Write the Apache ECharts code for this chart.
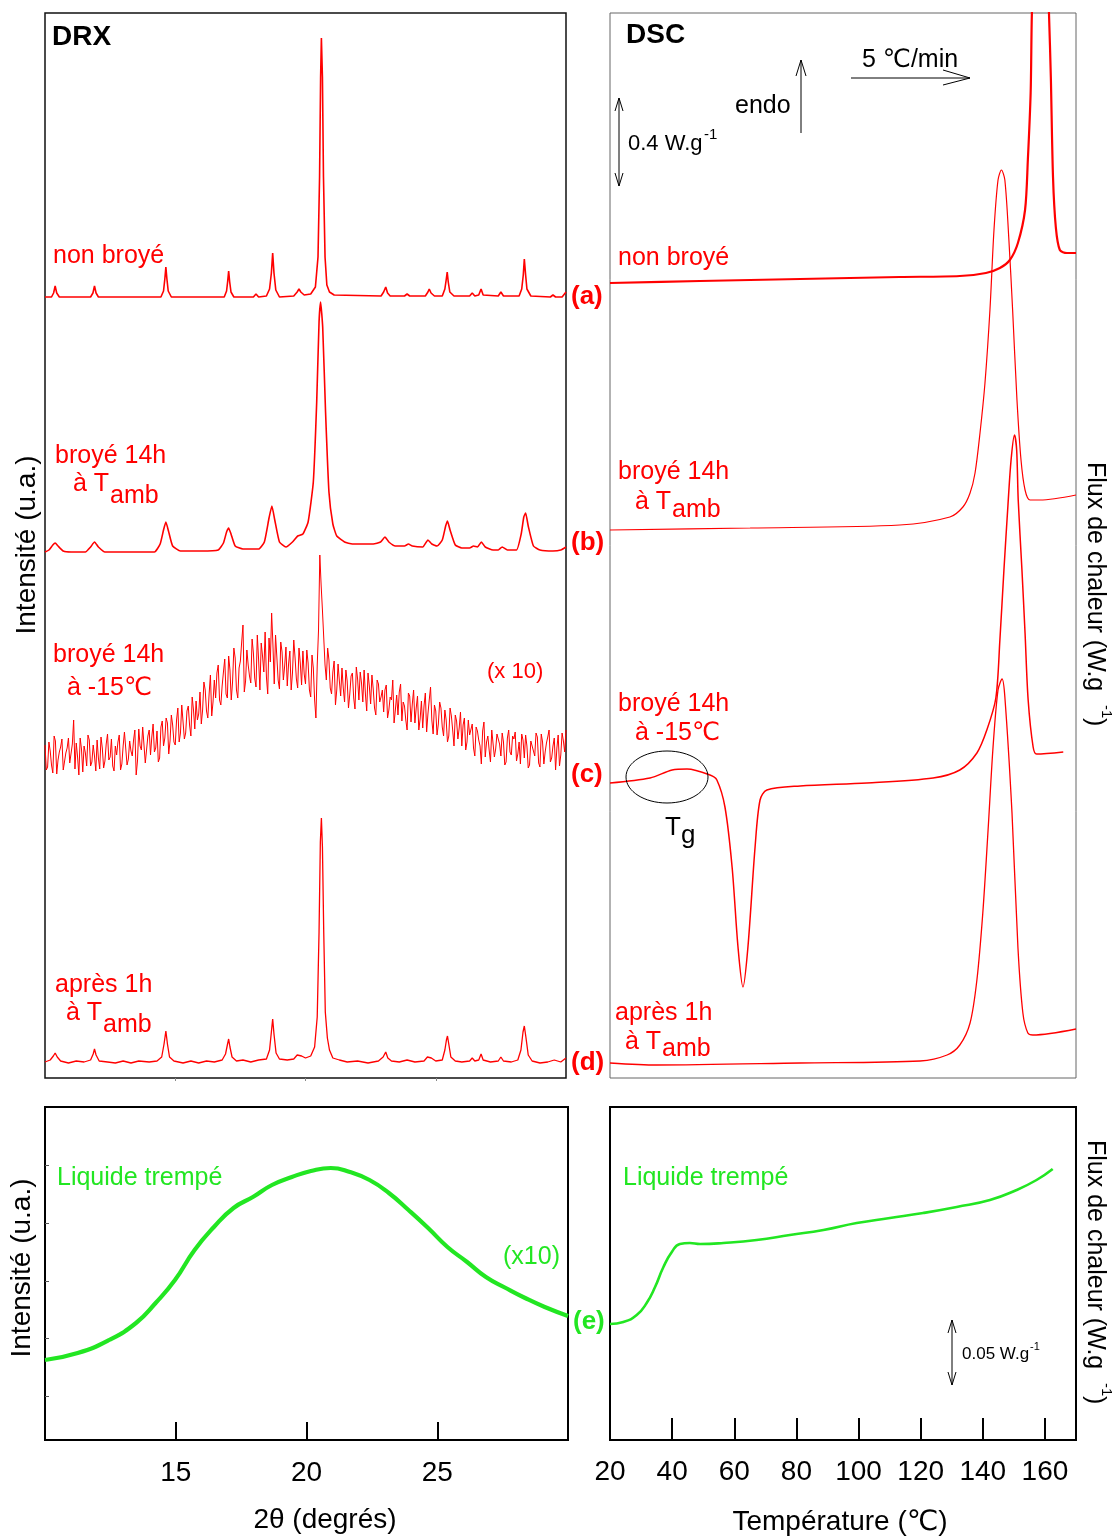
<!DOCTYPE html>
<html>
<head>
<meta charset="utf-8">
<title>DRX / DSC</title>
<script src="https://cdn.jsdelivr.net/npm/echarts@6/dist/echarts.min.js"></script>
<style>
  html, body { margin: 0; padding: 0; background: #fff; }
  #chart { width: 1118px; height: 1538px; }
</style>
</head>
<body>
<div id="chart"></div>
<script>
var FONT = "'Liberation Sans', Arial, 'DejaVu Sans', sans-serif";
var RED = '#ff0000';
var GREEN = '#22e622';

// ---- DRX : [2θ, intensité relative à la ligne de base] ----
var drxNonBroye = [
  [10.0, 0], [10.25, 0], [10.33, 4], [10.39, 11], [10.45, 4], [10.55, 0],
  [11.75, 0], [11.84, 4], [11.9, 11], [11.96, 4], [12.05, 0],
  [14.45, 0], [14.55, 6], [14.6, 18], [14.64, 30], [14.68, 18], [14.73, 6], [14.85, 0],
  [16.88, 0], [16.97, 6], [17.01, 15], [17.05, 26], [17.09, 15], [17.14, 5], [17.25, 0],
  [18.0, 0], [18.1, 3], [18.2, 0],
  [18.5, 1], [18.62, 8], [18.69, 24], [18.74, 44], [18.79, 24], [18.86, 7], [19.0, 0],
  [19.55, 1], [19.68, 5], [19.75, 8], [19.82, 5], [19.95, 2],
  [20.2, 3], [20.38, 10], [20.48, 40], [20.54, 120], [20.58, 220], [20.61, 259], [20.65, 220], [20.69, 120], [20.75, 40], [20.82, 12], [20.86, 10], [20.92, 5], [21.1, 2],
  [22.9, 1], [23.0, 5], [23.08, 10], [23.15, 4], [23.25, 1],
  [23.8, 1], [23.9, 3], [24.0, 1],
  [24.6, 1], [24.7, 5], [24.75, 8], [24.82, 4], [24.95, 1],
  [25.25, 1], [25.35, 8], [25.4, 17], [25.44, 25], [25.48, 15], [25.54, 5], [25.7, 1],
  [26.3, 1], [26.4, 4], [26.5, 1], [26.65, 2], [26.74, 8], [26.82, 2],
  [27.4, 1], [27.5, 5], [27.6, 1],
  [28.2, 1], [28.3, 8], [28.36, 22], [28.4, 38], [28.45, 22], [28.5, 8], [28.65, 1],
  [29.4, 0], [29.5, 2], [29.6, 0], [29.85, 0], [30.0, 5]
];
var drxBroyeAmb = [
  [10.0, 0], [10.15, 2], [10.3, 7], [10.39, 9], [10.5, 6], [10.7, 1], [11.0, 0],
  [11.55, 0], [11.75, 5], [11.9, 10], [12.05, 5], [12.3, 0],
  [14.2, 0], [14.42, 8], [14.55, 22], [14.64, 30], [14.74, 21], [14.9, 6], [15.2, 1],
  [16.0, 1], [16.65, 2], [16.85, 9], [16.97, 20], [17.05, 24], [17.14, 18], [17.3, 6], [17.6, 3],
  [18.2, 3], [18.42, 10], [18.6, 34], [18.71, 46], [18.82, 32], [19.0, 10], [19.25, 5],
  [19.5, 10], [19.7, 16], [19.9, 18], [20.1, 30], [20.3, 70], [20.43, 150], [20.52, 230], [20.58, 250], [20.66, 225], [20.77, 140], [20.9, 60], [21.05, 28], [21.2, 16], [21.5, 10], [21.8, 8],
  [22.6, 8], [22.88, 10], [23.05, 15], [23.2, 10], [23.45, 6],
  [23.8, 6], [23.95, 8], [24.1, 6],
  [24.5, 5], [24.7, 12], [24.85, 8], [25.05, 6], [25.25, 12], [25.38, 26], [25.45, 31], [25.55, 22], [25.75, 7], [26.0, 4],
  [26.3, 4], [26.45, 6], [26.6, 5], [26.75, 10], [26.9, 5], [27.2, 2],
  [27.4, 2], [27.55, 5], [27.75, 2],
  [28.1, 2], [28.28, 18], [28.38, 35], [28.45, 39], [28.55, 26], [28.75, 6], [29.0, 2],
  [29.5, 1], [29.8, 2], [30.0, 5]
];
// broyé 14h à -15 °C : points à 10.0, 10.1, ... 30.0
var drxFroidStart = 10;
var drxFroidStep = 0.1;
var drxBroyeFroid = [
  15, -7, 9, -13, 19, 0, 13, -10, 7, 22,
  -4, 40, 17, -15, 11, 14, -6, 20, -2, 4,
  20, -9, 12, -1, 26, 3, -6, 14, 18, -10,
  14, 27, 1, 9, 20, -15, 31, 10, 15, -2,
  30, 23, 8, 29, 2, 39, 22, 37, 19, 35,
  15, 52, 27, 38, 27, 54, 24, 50, 59, 46,
  36, 78, 49, 66, 44, 80, 87, 60, 74, 101,
  62, 90, 78, 102, 62, 99, 135, 79, 95, 77,
  107, 73, 100, 117, 88, 83, 122, 147, 76, 103,
  71, 108, 94, 74, 109, 87, 102, 72, 97, 109,
  76, 97, 63, 92, 42, 130, 175, 150, 80, 100,
  66, 99, 70, 79, 92, 58, 79, 66, 87, 51,
  81, 88, 58, 66, 87, 56, 71, 45, 76, 63,
  48, 75, 50, 60, 37, 65, 68, 39, 54, 30,
  64, 56, 37, 64, 41, 32, 67, 46, 73, 26,
  49, 36, 52, 24, 40, 24, 44, 14, 39, 32,
  14, 42, 18, 25, 36, 4, 29, 14, 29, 3,
  24, -2, 28, 11, 28, 4, 18, -2, 30, 5,
  21, -1, 18, 26, 2, 14, -5, 21, 4, 23,
  -7, 18, 8, 23, -2, 14, -10, 25, 5, 19,
  30
];
// même courbe, points intermédiaires à 10.05, 10.15, ... 29.95
var drxBroyeFroidMid = [
  -10, 18, -5, 24, -14, 8, 21, -8, 12, -3,
  16, -9, 3, 22, -12, 7, 25, -6, 15, -11,
  2, 23, -8, 16, 0, 21, -11, 5, 25, -4,
  28, -5, 19, 4, 30, -1, 14, 33, -3, 24,
  5, 36, 12, -2, 33, 14, 42, 6, 45, 18,
  40, 18, 55, 21, 49, 35, 63, 31, 40, 68,
  50, 70, 42, 85, 58, 62, 95, 55, 88, 66,
  104, 60, 112, 70, 92, 118, 68, 110, 84, 121,
  82, 125, 70, 104, 128, 66, 98, 115, 125, 80,
  118, 80, 113, 96, 70, 120, 81, 112, 75, 86,
  110, 70, 105, 60, 95, 205, 150, 95, 112, 72,
  88, 55, 96, 64, 72, 90, 52, 84, 62, 93,
  60, 77, 90, 49, 74, 85, 52, 80, 58, 70,
  70, 42, 63, 80, 50, 45, 76, 58, 40, 67,
  38, 70, 52, 30, 59, 54, 28, 60, 40, 55,
  25, 58, 33, 50, 18, 52, 30, 45, 21, 48,
  35, 10, 40, 24, 12, 33, 20, -4, 38, 18,
  10, 30, 3, 26, 16, 27, -5, 22, 8, 24,
  28, 6, -4, 20, 25, -8, 19, 9, 27, -3,
  26, -4, 17, 30, 2, 22, 12, -6, 27, 8
];
var drxApres1h = [
  [10.0, 0], [10.2, 2], [10.32, 6], [10.39, 9], [10.47, 5], [10.6, 1], [10.9, -1], [11.2, 1], [11.5, 0],
  [11.75, 2], [11.85, 8], [11.9, 13], [11.96, 7], [12.08, 1], [12.4, 0], [12.7, -1], [13.0, 1], [13.3, -1], [13.6, 1], [14.0, 0], [14.3, 1],
  [14.48, 5], [14.57, 18], [14.64, 31], [14.7, 18], [14.78, 5], [14.95, 1], [15.3, -1], [15.6, 1], [15.9, -1], [16.2, 1], [16.5, 0], [16.8, 2],
  [16.93, 8], [17.0, 17], [17.05, 23], [17.1, 15], [17.18, 5], [17.35, 1], [17.6, 2], [17.9, 0], [18.2, 2], [18.5, 3],
  [18.62, 12], [18.69, 30], [18.74, 43], [18.79, 28], [18.87, 9], [19.0, 3], [19.3, 2], [19.55, 3],
  [19.68, 7], [19.75, 9], [19.85, 6], [20.0, 4], [20.2, 6], [20.35, 15], [20.45, 45], [20.52, 130], [20.57, 220], [20.61, 244], [20.65, 215], [20.7, 130], [20.76, 50], [20.84, 24], [20.92, 12], [21.05, 4], [21.3, 2], [21.6, 0], [22.0, 1], [22.4, -1], [22.8, 1],
  [22.98, 5], [23.08, 10], [23.16, 4], [23.3, 1], [23.6, 0], [23.9, 2], [24.2, 0], [24.55, 1],
  [24.68, 5], [24.75, 7], [24.83, 4], [25.0, 1], [25.25, 2],
  [25.35, 12], [25.41, 22], [25.45, 26], [25.5, 18], [25.58, 5], [25.75, 1], [26.0, 0], [26.3, 1],
  [26.4, 4], [26.5, 1], [26.65, 2], [26.74, 8], [26.82, 2], [27.1, 0],
  [27.4, 1], [27.5, 5], [27.6, 1], [27.9, 0], [28.15, 2],
  [28.27, 12], [28.35, 30], [28.4, 36], [28.46, 25], [28.55, 7], [28.7, 1], [29.0, -1], [29.3, 0], [29.55, 2], [29.8, 0], [30.0, 4]
];
// décalage vertical de chaque diffractogramme (a, b, c, d)
var drxBaselines = [781, 526, 318, 16];

var drxLiquide = [
  [10.0, 80], [11.25, 87], [12.45, 100], [13.48, 117], [14.23, 137], [14.97, 160],
  [15.72, 190], [16.46, 213], [17.21, 232], [17.95, 243], [18.68, 255], [19.44, 263],
  [20.17, 269], [20.93, 272], [21.66, 268], [22.41, 260], [23.15, 247], [23.9, 230],
  [24.65, 212], [25.39, 193], [26.14, 178], [26.86, 163], [27.62, 152], [28.36, 142],
  [29.11, 133], [30.0, 124]
];

// ---- DSC : [T (°C), flux (u.a.)] ----
var dscNonBroye = [
  [20, 795], [49, 797], [81.2, 799], [113.3, 801], [132.6, 802], [141, 805], [145.5, 810],
  [148.7, 818], [151.3, 835], [153.6, 868], [154.5, 918], [155.4, 985], [155.8, 1065],
  [156.8, 1158], [158.6, 1205], [160.3, 1158], [161.3, 1065], [161.9, 1001], [162.6, 901],
  [163.5, 851], [164.8, 828], [167.1, 825], [170, 825]
];
var dscBroyeAmb = [
  [20, 548], [65.1, 550], [113.3, 553], [129.4, 561], [133.6, 571], [135.9, 585], [137.5, 605],
  [139.1, 645], [140.7, 695], [142.3, 768], [143.6, 848], [144.9, 898], [146, 908], [147.1, 898],
  [148.4, 838], [149.6, 768], [151, 678], [152.3, 618], [153.6, 588], [155.2, 578], [158.4, 578],
  [170, 583]
];
var dscBroyeFroid = [
  [20, 295], [32.9, 300], [40, 308], [44.8, 309], [52.2, 303], [54.4, 298], [57, 271], [59.3, 211],
  [61.2, 131], [62.8, 91], [64.4, 131], [66.7, 231], [68.3, 278], [70.5, 288], [81.2, 292],
  [102.7, 295], [124, 300], [132.6, 308], [138.1, 325], [141.3, 348], [144.2, 380], [145.5, 438],
  [146.8, 508], [148.1, 573], [149.1, 618], [150.2, 643], [150.9, 628], [151.4, 578], [152.6, 508],
  [153.6, 445], [154.6, 378], [156.2, 331], [157.3, 324], [165.9, 326]
];
var dscApres1h = [
  [20, 15], [35.1, 13], [81.2, 15], [119.8, 17], [128.5, 23], [132.6, 33], [135.9, 55], [138.1, 98],
  [140, 165], [141.7, 248], [143.3, 331], [144.9, 388], [146.2, 399], [147.1, 381], [149.4, 265],
  [151.3, 131], [152.9, 65], [154.5, 45], [156.1, 43], [170, 49]
];
var dscLiquide = [
  [20, 116], [24.3, 118], [28.6, 125], [31.8, 137], [34.5, 153], [37.2, 173], [39.9, 188],
  [42.5, 196], [45.7, 197], [49, 196], [56.5, 197], [67.2, 200], [77.9, 205], [88.7, 210],
  [99.4, 217], [110.1, 222], [120.8, 227], [131.6, 233], [142.3, 240], [150.9, 250],
  [157.3, 260], [162.5, 271]
];

var drxTicks = [15, 20, 25];
var dscTickMarks = [40, 60, 80, 100, 120, 140, 160];
var dscTickLabels = [20, 40, 60, 80, 100, 120, 140, 160];

function shift(pts, off) {
  return pts.map(function (p) { return [p[0], p[1] + off]; });
}
var froidPts = [];
drxBroyeFroid.forEach(function (v, i) {
  var x = drxFroidStart + i * drxFroidStep;
  froidPts.push([+x.toFixed(2), v + drxBaselines[2]]);
  if (i < drxBroyeFroidMid.length) {
    froidPts.push([+(x + drxFroidStep / 2).toFixed(2), drxBroyeFroidMid[i] + drxBaselines[2]]);
  }
});

function line(xi, data, color, width, smooth) {
  return {
    type: 'line', xAxisIndex: xi, yAxisIndex: xi, data: data,
    showSymbol: false, smooth: smooth || false, animation: false, silent: true,
    lineStyle: { color: color, width: width }
  };
}

function txt(x, y, text, size, color, opt) {
  opt = opt || {};
  return {
    type: 'text', x: x, y: y, rotation: opt.rot || 0, z: 100, silent: true,
    style: {
      text: text, fontSize: size, fill: color, fontFamily: FONT,
      fontWeight: opt.bold ? 'bold' : 'normal',
      align: opt.align || 'left', verticalAlign: 'middle'
    }
  };
}
function seg(x1, y1, x2, y2, w) {
  return { type: 'line', z: 100, silent: true, shape: { x1: x1, y1: y1, x2: x2, y2: y2 },
    style: { stroke: '#000', lineWidth: w || 1 } };
}
function head(pts) {
  return { type: 'polyline', z: 100, silent: true, shape: { points: pts },
    style: { stroke: '#000', fill: 'none', lineWidth: 1 } };
}

var hiddenY = { type: 'value', axisLine: { show: false }, axisTick: { show: false },
  axisLabel: { show: false }, splitLine: { show: false } };

var chart = echarts.init(document.getElementById('chart'));
chart.setOption({
  backgroundColor: '#fff',
  animation: false,
  grid: [
    { left: 45, top: 13, width: 521, height: 1065, show: true, borderColor: '#111', borderWidth: 1.5 },
    { left: 610, top: 13, width: 466, height: 1065, show: true, borderColor: '#666', borderWidth: 1 },
    { left: 45, top: 1107, width: 523, height: 333, show: true, borderColor: '#000', borderWidth: 2 },
    { left: 610, top: 1107, width: 466, height: 333, show: true, borderColor: '#000', borderWidth: 2 }
  ],
  xAxis: [
    { gridIndex: 0, type: 'value', min: 10, max: 30, axisLine: { show: false },
      axisTick: { show: true, length: 3, customValues: drxTicks, lineStyle: { color: '#888' } },
      axisLabel: { show: false }, splitLine: { show: false } },
    { gridIndex: 1, type: 'value', min: 20, max: 170, axisLine: { show: false },
      axisTick: { show: false }, axisLabel: { show: false }, splitLine: { show: false } },
    { gridIndex: 2, type: 'value', min: 10, max: 30, axisLine: { show: false },
      axisTick: { show: true, inside: true, length: 18, customValues: drxTicks,
        lineStyle: { color: '#000', width: 2 } },
      axisLabel: { customValues: drxTicks, fontSize: 28, color: '#000', fontFamily: FONT, margin: 19 },
      splitLine: { show: false } },
    { gridIndex: 3, type: 'value', min: 20, max: 170, axisLine: { show: false },
      axisTick: { show: true, inside: true, length: 22, customValues: dscTickMarks,
        lineStyle: { color: '#000', width: 2 } },
      axisLabel: { customValues: dscTickLabels, fontSize: 28, color: '#000', fontFamily: FONT, margin: 18 },
      splitLine: { show: false } }
  ],
  yAxis: [
    Object.assign({ gridIndex: 0, min: 0, max: 1065 }, hiddenY),
    Object.assign({ gridIndex: 1, min: 0, max: 1065 }, hiddenY),
    { gridIndex: 2, type: 'value', min: 0, max: 333, axisLine: { show: false },
      axisTick: { show: true, inside: true, length: 4, customValues: [44, 102, 159, 217, 275],
        lineStyle: { color: '#555' } },
      axisLabel: { show: false }, splitLine: { show: false } },
    Object.assign({ gridIndex: 3, min: 0, max: 333 }, hiddenY)
  ],
  series: [
    line(0, shift(drxNonBroye, drxBaselines[0]), RED, 1.6),
    line(0, shift(drxBroyeAmb, drxBaselines[1]), RED, 1.6, 0.15),
    line(0, froidPts, RED, 1),
    line(0, shift(drxApres1h, drxBaselines[3]), RED, 1.3),
    line(1, dscNonBroye, RED, 2.2, 0.3),
    line(1, dscBroyeAmb, RED, 1.2, 0.3),
    line(1, dscBroyeFroid, RED, 1.5, 0.3),
    line(1, dscApres1h, RED, 1.3, 0.3),
    line(2, drxLiquide, GREEN, 4.2, true),
    line(3, dscLiquide, GREEN, 2.6, true)
  ],
  graphic: [
    // DRX haut
    txt(52, 37, 'DRX', 28, '#000', { bold: true }),
    txt(53, 256, 'non broyé', 25, RED),
    txt(55, 456, 'broyé 14h', 25, RED),
    txt(73, 484, 'à T', 25, RED),
    txt(110, 496, 'amb', 25, RED),
    txt(53, 655, 'broyé 14h', 25, RED),
    txt(67, 688, 'à -15℃', 25, RED),
    txt(487, 672, '(x 10)', 22, RED),
    txt(55, 985, 'après 1h', 25, RED),
    txt(66, 1013, 'à T', 25, RED),
    txt(103, 1025, 'amb', 25, RED),
    txt(571, 297, '(a)', 26, RED, { bold: true }),
    txt(571, 543, '(b)', 26, RED, { bold: true }),
    txt(571, 775, '(c)', 26, RED, { bold: true }),
    txt(571, 1063, '(d)', 26, RED, { bold: true }),
    txt(27, 545, 'Intensité (u.a.)', 28, '#000', { rot: Math.PI / 2, align: 'center' }),
    // DSC haut
    txt(626, 35, 'DSC', 28, '#000', { bold: true }),
    seg(619, 98, 619, 186),
    head([[615, 111], [619, 98], [623, 111]]),
    head([[615, 173], [619, 186], [623, 173]]),
    txt(628, 144, '0.4 W.g', 22, '#000'),
    txt(704, 135, '-1', 15, '#000'),
    txt(735, 106, 'endo', 25, '#000'),
    seg(801, 133, 801, 60),
    head([[796, 76], [801, 60], [806, 76]]),
    txt(862, 60, '5 ℃/min', 25, '#000'),
    seg(851, 78, 970, 78),
    head([[943, 70], [970, 78], [943, 85]]),
    txt(618, 258, 'non broyé', 25, RED),
    txt(618, 472, 'broyé 14h', 25, RED),
    txt(635, 502, 'à T', 25, RED),
    txt(672, 510, 'amb', 25, RED),
    txt(618, 704, 'broyé 14h', 25, RED),
    txt(635, 733, 'à -15℃', 25, RED),
    { type: 'ellipse', z: 100, silent: true, shape: { cx: 667, cy: 777, rx: 41, ry: 26 },
      style: { stroke: '#000', fill: 'none', lineWidth: 1 } },
    txt(665, 828, 'T', 26, '#000'),
    txt(681, 836, 'g', 26, '#000'),
    txt(615, 1013, 'après 1h', 25, RED),
    txt(625, 1042, 'à T', 25, RED),
    txt(662, 1049, 'amb', 25, RED),
    txt(1095, 462, 'Flux de chaleur (W.g', 25, '#000', { rot: -Math.PI / 2 }),
    txt(1106, 705, '-1', 15, '#000', { rot: -Math.PI / 2 }),
    txt(1095, 718, ')', 25, '#000', { rot: -Math.PI / 2 }),
    // DRX bas
    txt(57, 1178, 'Liquide trempé', 25, GREEN),
    txt(503, 1257, '(x10)', 25, GREEN),
    txt(573, 1322, '(e)', 26, GREEN, { bold: true }),
    txt(22, 1268, 'Intensité (u.a.)', 28, '#000', { rot: Math.PI / 2, align: 'center' }),
    txt(325, 1520, '2θ (degrés)', 28, '#000', { align: 'center' }),
    // DSC bas
    txt(623, 1178, 'Liquide trempé', 25, GREEN),
    seg(952, 1320, 952, 1385),
    head([[948, 1333], [952, 1320], [956, 1333]]),
    head([[948, 1372], [952, 1385], [956, 1372]]),
    txt(962, 1354, '0.05 W.g', 17, '#000'),
    txt(1030, 1347, '-1', 11, '#000'),
    txt(840, 1522, 'Température (℃)', 28, '#000', { align: 'center' }),
    txt(1095, 1140, 'Flux de chaleur (W.g', 25, '#000', { rot: -Math.PI / 2 }),
    txt(1106, 1383, '-1', 15, '#000', { rot: -Math.PI / 2 }),
    txt(1095, 1396, ')', 25, '#000', { rot: -Math.PI / 2 })
  ]
});
</script>
</body>
</html>
